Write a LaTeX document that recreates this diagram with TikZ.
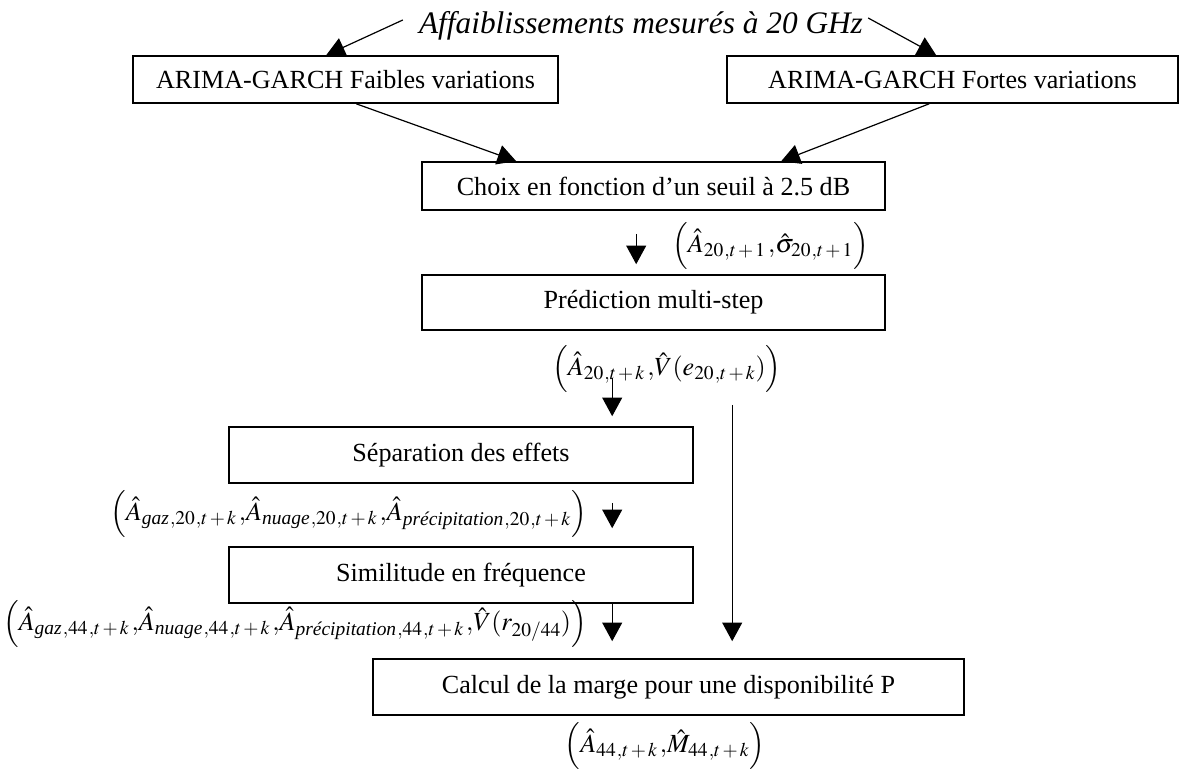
\documentclass[tikz,border=0pt]{standalone}
\usepackage{amsmath}
\usepackage{mathptmx}
\usepackage[no-math]{fontspec}
\setmainfont{Liberation Serif}
\usetikzlibrary{arrows.meta,calc}
\DeclareMathSizes{19.6}{19.6}{14.6}{11}
\newcommand{\boxfont}{\fontsize{19.6}{23}\selectfont}
\newcommand{\titlefont}{\fontsize{23.5}{28}\selectfont\itshape}
\newcommand{\tk}{t\,{+}\,k}
\newcommand{\tone}{t\,{+}\,1}
\newcommand{\cm}{\mkern1.5mu{,}}
\newcommand{\subcm}{\mkern1mu{,}}
\begin{document}
\begin{tikzpicture}[x=0.75pt,y=-0.75pt,
  stepbox/.style={draw, line width=1.2pt, inner sep=0pt, font=\boxfont, align=center},
  formula/.style={inner sep=0pt, font=\boxfont},
  arr/.style={-{Triangle[length=14pt,width=15pt]}, line width=0.9pt}]
\useasboundingbox (0,0) rectangle (1186,771);
% title
\node[anchor=base, inner sep=0pt, font=\titlefont] (title) at (641,33) {Affaiblissements mesurés à 20 GHz};
% boxes
\node[stepbox, minimum width=318.75pt, minimum height=35.25pt] (b1) at (345.5,79.5) {ARIMA-GARCH Faibles variations};
\node[stepbox, minimum width=338.25pt, minimum height=35.25pt] (b2) at (952.5,79.5) {ARIMA-GARCH Fortes variations};
\node[stepbox, minimum width=347.25pt, minimum height=36pt] (cho) at (653.5,186) {Choix en fonction d’un seuil à 2.5 dB};
\node[stepbox, minimum width=347.25pt, minimum height=41.25pt] (pre) at (653.5,302.5) {Prédiction multi-step};
\node[stepbox, minimum width=348pt, minimum height=42pt] (sep) at (461,455) {Séparation des effets};
\node[stepbox, minimum width=348pt, minimum height=42pt] (sim) at (461,575) {Similitude en fréquence};
\node[stepbox, minimum width=443.25pt, minimum height=42pt] (cal) at (668.5,687) {Calcul de la marge pour une disponibilité P};
% formulas
\node[formula, anchor=west] (f1) at (672,246) {$\Bigl(\hat{A}_{20\subcm\tone}\cm\hat{\sigma}_{20\subcm\tone}\Bigr)$};
\node[formula, anchor=west] (f2) at (552,369) {$\Bigl(\hat{A}_{20\subcm\tk}\cm\hat{V}(e_{20\subcm\tk})\Bigr)$};
\node[formula, anchor=east] (f3) at (587,514) {$\Bigl(\hat{A}_{\textit{gaz}\subcm20\subcm\tk}\cm\hat{A}_{\textit{nuage}\subcm20\subcm\tk}\cm\hat{A}_{\textit{précipitation}\subcm20\subcm\tk}\Bigr)$};
\node[formula, anchor=east] (f4) at (587,624) {$\Bigl(\hat{A}_{\textit{gaz}\subcm44\subcm\tk}\cm\hat{A}_{\textit{nuage}\subcm44\subcm\tk}\cm\hat{A}_{\textit{précipitation}\subcm44\subcm\tk}\cm\hat{V}(r_{20/44})\Bigr)$};
\node[formula] (f5) at (665,746) {$\Bigl(\hat{A}_{44\subcm\tk}\cm\hat{M}_{44\subcm\tk}\Bigr)$};
% connectors
\draw[arr] ([xshift=-12pt,yshift=9.75pt]title.base west) -- ([xshift=145.5pt]b1.north west);
\draw[arr] ([xshift=3.75pt,yshift=11.25pt]title.base east) -- ([xshift=157.5pt]b2.north west);
\draw[arr] ([xshift=168pt]b1.south west) -- ([xshift=71.25pt]cho.north west);
\draw[arr] ([xshift=152.25pt]b2.south west) -- ([xshift=270pt]cho.north west);
\draw[arr] ([xshift=161.25pt,yshift=-17.25pt]cho.south west) -- ([xshift=161.25pt,yshift=7.5pt]pre.north west);
\draw[arr] ([xshift=143.25pt,yshift=-35.25pt]pre.south west) -- ([xshift=288pt,yshift=7.5pt]sep.north west);
\draw[arr] ([xshift=288pt,yshift=-14.25pt]sep.south west) -- ([xshift=288pt,yshift=13.5pt]sim.north west);
\draw[arr] ([xshift=288pt]sim.south west) -- ([xshift=180pt,yshift=12.75pt]cal.north west);
\draw[arr] ([xshift=233.25pt,yshift=-55.5pt]pre.south west) -- ([xshift=270pt,yshift=12.75pt]cal.north west);
\end{tikzpicture}
\end{document}
